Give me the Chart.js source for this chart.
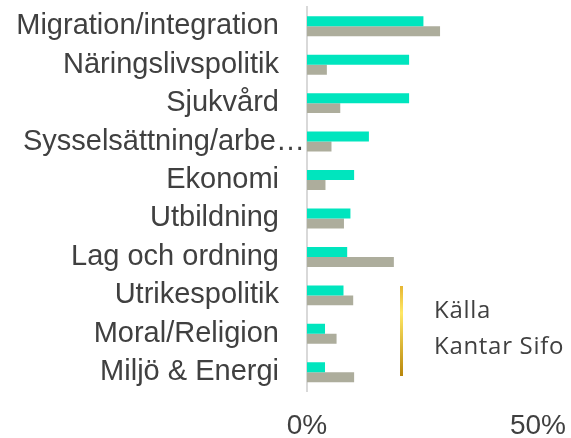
<!DOCTYPE html>
<html>
<head>
<meta charset="utf-8">
<script src="https://cdn.jsdelivr.net/npm/chart.js@4"></script>
<style>
  html, body { margin: 0; padding: 0; background: #fff; }
  #wrap { width: 571px; height: 438px; position: relative; }
</style>
</head>
<body>
<div id="wrap"><canvas id="myGraph"></canvas></div>
<script>
const categories = [
  'Migration/integration',
  'Näringslivspolitik',
  'Sjukvård',
  'Sysselsättning/arbe…',
  'Ekonomi',
  'Utbildning',
  'Lag och ordning',
  'Utrikespolitik',
  'Moral/Religion',
  'Miljö & Energi',
]
// values in percent
const tealValues = [25.2, 22.1, 22.1, 13.4, 10.2, 9.4, 8.7, 7.9, 3.9, 3.9]
const greyValues = [28.8, 4.3, 7.2, 5.3, 4.0, 8.0, 18.8, 10.0, 6.4, 10.2]
const sourceLines = ['Källa', 'Kantar Sifo']
const truncatedIndex = 3

const labelFont = '"Liberation Sans", Arial, sans-serif'

// Source note with the gold rule, plus the truncated label that runs up to the axis
const sourceNote = {
  id: 'sourceNote',
  afterDraw(chart) {
    const ctx = chart.ctx
    ctx.save()
    const y = chart.scales.y
    ctx.fillStyle = '#404040'
    ctx.font = '29px ' + labelFont
    ctx.textAlign = 'right'
    ctx.textBaseline = 'middle'
    ctx.fillText(categories[truncatedIndex], 305, y.getPixelForValue(truncatedIndex))

    const grad = ctx.createLinearGradient(0, 286, 0, 376)
    grad.addColorStop(0, '#E6B632')
    grad.addColorStop(0.3, '#FFE866')
    grad.addColorStop(1, '#B8860B')
    ctx.fillStyle = grad
    ctx.fillRect(400, 286, 3, 90)
    ctx.fillStyle = '#404040'
    ctx.font = '24px "Open Sans", "Noto Sans", sans-serif'
    ctx.textAlign = 'left'
    if ('letterSpacing' in ctx) ctx.letterSpacing = '0.7px'
    ctx.textBaseline = 'alphabetic'
    ctx.fillText(sourceLines[0], 434, 318)
    ctx.fillText(sourceLines[1], 434, 354)
    ctx.restore()
  },
}

const ctx = document.getElementById('myGraph').getContext('2d')
new Chart(ctx, {
  type: 'bar',
  data: {
    labels: categories,
    datasets: [
      {
        label: 'A',
        data: tealValues,
        backgroundColor: '#00E5BE',
        categoryPercentage: 0.52,
        barPercentage: 1,
      },
      {
        label: 'B',
        data: greyValues,
        backgroundColor: '#ADAD9C',
        categoryPercentage: 0.52,
        barPercentage: 1,
      },
    ],
  },
  options: {
    indexAxis: 'y',
    responsive: true,
    maintainAspectRatio: false,
    animation: false,
    layout: { padding: { top: 7, right: 33, left: 0, bottom: 0 } },
    plugins: {
      legend: { display: false },
      tooltip: { enabled: false },
    },
    scales: {
      x: {
        min: 0,
        max: 50,
        grid: { display: false, drawTicks: false },
        border: { display: false },
        ticks: {
          stepSize: 50,
          padding: 18,
          color: '#404040',
          font: { family: labelFont, size: 28 },
          callback: (v) => v + '%',
        },
        afterFit: (s) => {
          s.height = 46.5
          s.paddingLeft = 0
          s.paddingRight = 0
        },
      },
      y: {
        grid: { display: false, drawTicks: false },
        border: { display: true, color: '#D9D9D9', width: 2 },
        ticks: {
          autoSkip: false,
          padding: 28,
          color: (c) => (c.index === truncatedIndex ? 'rgba(0,0,0,0)' : '#404040'),
          font: { family: labelFont, size: 29 },
        },
        afterFit: (s) => {
          s.width = 307
          s.paddingTop = 0
          s.paddingBottom = 0
        },
      },
    },
  },
  plugins: [sourceNote],
})
</script>
</body>
</html>
